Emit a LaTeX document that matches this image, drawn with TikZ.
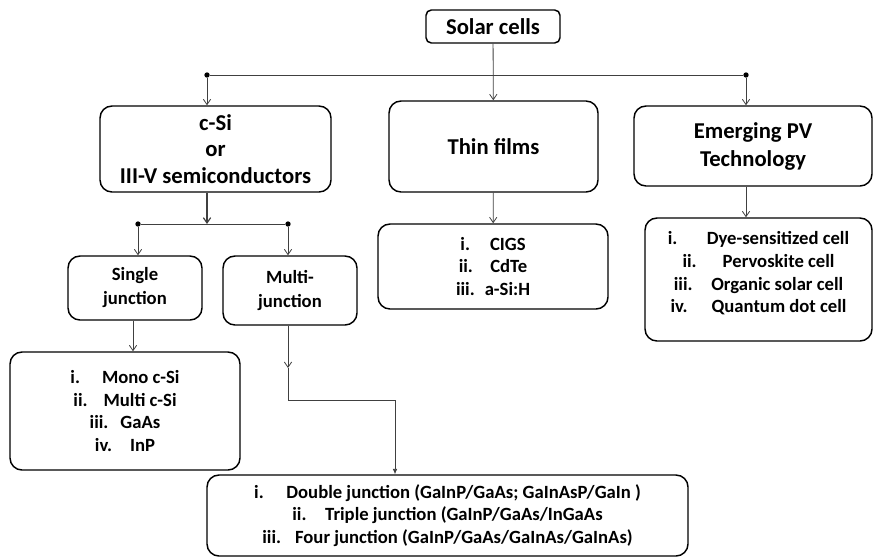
\documentclass[tikz,border=0pt]{standalone}
\usepackage{fontspec}
\setmainfont{Carlito}
\usetikzlibrary{arrows.meta}

\begin{document}
\begin{tikzpicture}[x=0.75pt, y=-0.75pt, >={Straight Barb[length=4pt,width=5.5pt]},
  box/.style={draw, line width=1.1pt, rounded corners=9pt, align=center, inner sep=0pt, font=\bfseries\fontsize{17}{20}\selectfont},
  listbox/.style={box, font=\bfseries\fontsize{14}{17}\selectfont},
  conn/.style={draw=black!75, line width=0.6pt},
  dot/.style={circle, fill=black, inner sep=0pt, minimum size=4pt}]
\useasboundingbox (0,0) rectangle (873,557);

\node[box, rounded corners=4pt, minimum width=100.5pt, minimum height=24.75pt] (solar) at (493,26.5) {Solar cells};
\node[box, minimum width=173.25pt, minimum height=64.5pt] (csi) at (215.5,149) {c-Si\\or\\III-V semiconductors};
\node[box, minimum width=156.75pt, minimum height=68.25pt] (thin) at (493.5,146.5) {Thin films};
\node[box, minimum width=178.5pt, minimum height=60pt, font=\bfseries\fontsize{17}{21}\selectfont] (emerg) at (753,146) {Emerging PV\\Technology};
\node[listbox, minimum width=172.5pt, minimum height=63.75pt] (cigs) at (493,266.5) {i.\hspace{15pt}CIGS\\ii.\hspace{13pt}CdTe\\iii.\hspace{7.5pt}a-Si:H};
\node[listbox, minimum width=170.25pt, minimum height=92.25pt] (emlist) at (758.5,279.5) {i.\hspace{22pt}Dye-sensitized cell\\ii.\hspace{19.5pt}Pervoskite cell\\iii.\hspace{14pt}Organic solar cell\\iv.\hspace{18pt}Quantum dot cell\\[-6pt]};
\node[listbox, minimum width=100.5pt, minimum height=48pt, font=\bfseries\fontsize{14}{18}\selectfont] (single) at (135,288) {Single\\junction};
\node[listbox, minimum width=100.5pt, minimum height=51.75pt, font=\bfseries\fontsize{14}{18}\selectfont] (multi) at (290,290.5) {Multi-\\junction};
\node[listbox, minimum width=172.5pt, minimum height=88.5pt] (mono) at (125,411) {i.\hspace{16.5pt}Mono c-Si\\ii.\hspace{12pt}Multi c-Si\\iii.\hspace{9pt}GaAs\\iv.\hspace{13.5pt}InP};
\node[listbox, minimum width=360.75pt, minimum height=60.75pt] (double) at (447.5,515.5) {i.\hspace{17pt}Double junction (GaInP/GaAs; GaInAsP/GaIn )\\ii.\hspace{14pt}Triple junction (GaInP/GaAs/InGaAs\\iii.\hspace{10.5pt}Four junction (GaInP/GaAs/GaInAs/GaInAs)};

\node[dot] (d1) at (207,75) {};
\node[dot] (d3) at (746,75) {};
\node[dot] (d4) at (138,224) {};
\node[dot] (d5) at (288,224) {};
\coordinate (j0) at (207,224);
\coordinate (s0) at (133,320);
\coordinate (m1) at (288,368);
\coordinate (m2) at (395,400);

\draw[conn] (d1) -- (d3);
\draw[conn,->] (solar) -- (thin);
\draw[conn,->] (d1) -- (d1 |- csi.north);
\draw[conn,->] (d3) -- (d3 |- emerg.north);
\draw[conn] (d4) -- (d5);
\draw[conn,line width=0.9pt,->] (j0 |- csi.south) -- (j0);
\draw[conn,->] (thin) -- (cigs);
\draw[conn,->] (d3 |- emerg.south) -- (d3 |- emlist.north);
\draw[conn,->] (d4) -- (d4 |- single.north);
\draw[conn,->] (d5) -- (d5 |- multi.north);
\draw[conn,->] (s0 |- single.south) -- (s0 |- mono.north);
\draw[conn,->] (d5 |- multi.south) -- (m1);
\draw[conn,-{Latex[length=4pt,width=3.5pt]}] (m1) |- (m2) -- (m2 |- double.north);
\end{tikzpicture}
\end{document}
